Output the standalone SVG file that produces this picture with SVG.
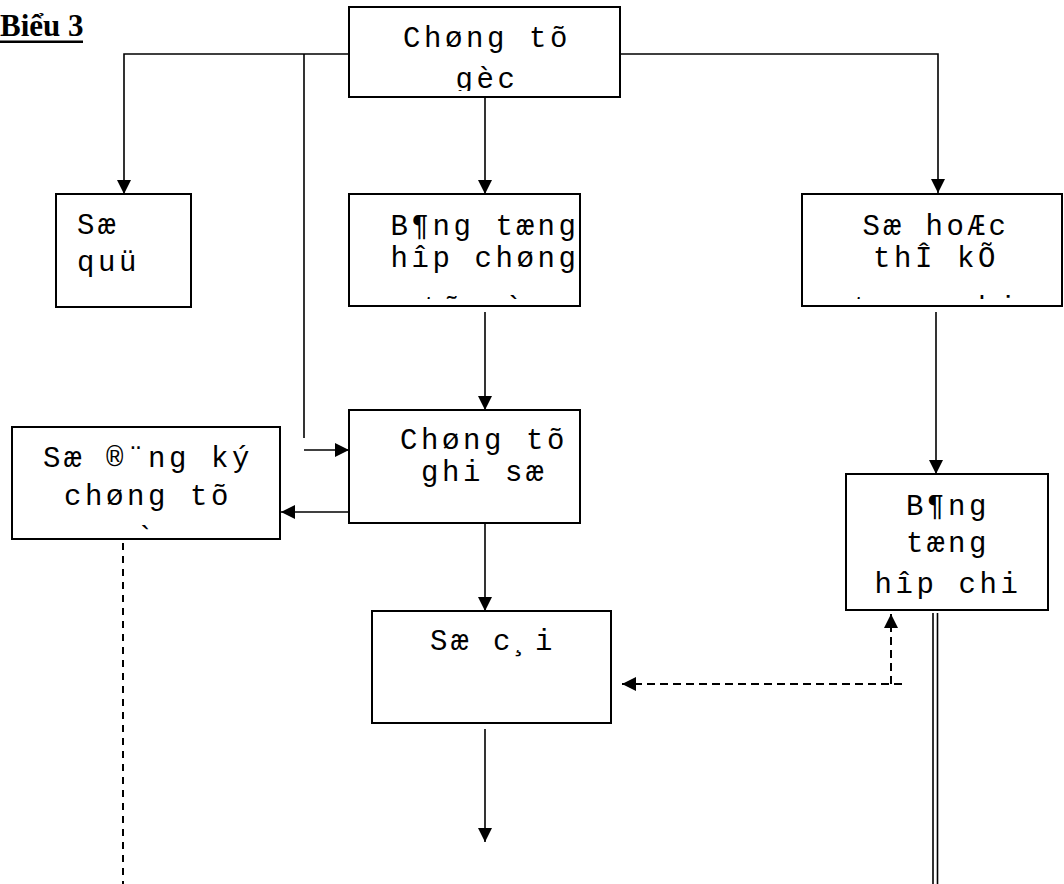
<svg xmlns="http://www.w3.org/2000/svg" width="1064" height="884" viewBox="0 0 1064 884">
<style>
.box{fill:#fff;stroke:#000;stroke-width:2}
.t{font-family:"Liberation Mono","Courier New",monospace;font-size:29px;letter-spacing:3.6px;fill:#000}
.c{text-anchor:middle}
.ln{fill:none;stroke:#000;stroke-width:1.6}
.dash{fill:none;stroke:#000;stroke-width:2;stroke-dasharray:8 5}
.vdash{fill:none;stroke:#000;stroke-width:2;stroke-dasharray:7 6}
</style>
<defs>
<marker id="ah" viewBox="0 0 14 14" refX="14" refY="7" markerWidth="14" markerHeight="14" markerUnits="userSpaceOnUse" orient="auto">
<path d="M0,0 L14,7 L0,14 z" fill="#000"/>
</marker>
<clipPath id="cTop"><rect x="349" y="7" width="271" height="84"/></clipPath>
<clipPath id="cBT"><rect x="349" y="194" width="231" height="105"/></clipPath>
<clipPath id="cSH"><rect x="802" y="194" width="260" height="105"/></clipPath>
<clipPath id="cDK"><rect x="12" y="427" width="268" height="103"/></clipPath>
</defs>

<g id="title">
<text x="0" y="36" font-family="Liberation Serif, serif" font-weight="bold" font-size="31">Biểu 3</text>
<rect x="0" y="40.5" width="83" height="2.5" fill="#000"/>
</g>

<g id="connectors">
<path class="ln" d="M349,54 H124 V194" marker-end="url(#ah)"/>
<path class="ln" d="M304,54 V438"/>
<path class="ln" d="M304,450 H349" marker-end="url(#ah)"/>
<path class="ln" d="M620,54 H938 V193" marker-end="url(#ah)"/>
<path class="ln" d="M485,97 V194" marker-end="url(#ah)"/>
<path class="ln" d="M485,312 V410" marker-end="url(#ah)"/>
<path class="ln" d="M349,512 H281" marker-end="url(#ah)"/>
<path class="ln" d="M485,521 V611" marker-end="url(#ah)"/>
<path class="ln" d="M485,729 V842" marker-end="url(#ah)"/>
<path class="ln" d="M936,312 V474" marker-end="url(#ah)"/>
<path class="dash" d="M902,684 H622" marker-end="url(#ah)"/>
<path class="dash" d="M891,684 V614" marker-end="url(#ah)"/>
<path class="vdash" d="M123,543 V884"/>
<path class="ln" d="M933,613 V884"/>
<path class="ln" d="M937.5,613 V884"/>
</g>

<g id="chung-tu-goc">
<rect class="box" x="349" y="7" width="271" height="90"/>
<g clip-path="url(#cTop)">
<text class="t c" x="487" y="47">Chøng tõ</text>
<text class="t c" x="487" y="88">gèc</text>
</g>
</g>

<g id="so-quy">
<rect class="box" x="56" y="194" width="135" height="113"/>
<text class="t" x="77" y="234">Sæ</text>
<text class="t" x="77" y="271">quü</text>
</g>

<g id="bang-tong-hop-chung-tu">
<rect class="box" x="349" y="194" width="231" height="112"/>
<g clip-path="url(#cBT)">
<text class="t c" x="485" y="235">B¶ng tæng</text>
<text class="t c" x="485" y="267">hîp chøng</text>
<text class="t c" x="485" y="317">tõ gèc</text>
</g>
</g>

<g id="so-the-chi-tiet">
<rect class="box" x="802" y="194" width="260" height="112"/>
<g clip-path="url(#cSH)">
<text class="t c" x="936" y="235">Sæ hoÆc</text>
<text class="t c" x="936" y="267">thÎ kÕ</text>
<text class="t c" x="936" y="317">to¸n chi</text>
</g>
</g>

<g id="so-dang-ky">
<rect class="box" x="12" y="427" width="268" height="112"/>
<g clip-path="url(#cDK)">
<text class="t c" x="148" y="467">Sæ ®¨ng ký</text>
<text class="t c" x="148" y="505">chøng tõ</text>
<text class="t c" x="148" y="547">gèc</text>
</g>
</g>

<g id="chung-tu-ghi-so">
<rect class="box" x="349" y="410" width="231" height="113"/>
<text class="t c" x="484" y="449">Chøng tõ</text>
<text class="t c" x="484" y="481">ghi sæ</text>
</g>

<g id="bang-tong-hop-chi-tiet">
<rect class="box" x="846" y="474" width="202" height="136"/>
<text class="t c" x="948" y="515">B¶ng</text>
<text class="t c" x="948" y="552">tæng</text>
<text class="t c" x="948" y="593">hîp chi</text>
</g>

<g id="so-cai">
<rect class="box" x="372" y="611" width="239" height="112"/>
<text class="t c" x="493" y="650">Sæ c¸i</text>
</g>
</svg>
